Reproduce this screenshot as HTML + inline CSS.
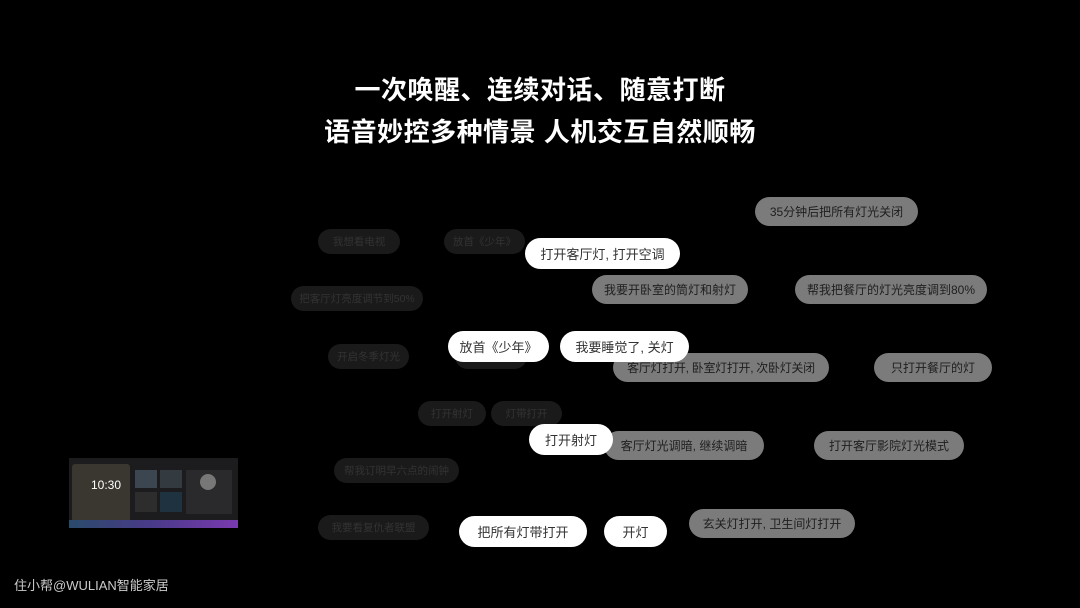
<!DOCTYPE html>
<html><head><meta charset="utf-8"><style>
html,body{margin:0;padding:0;background:#000;}
body{width:1080px;height:608px;position:relative;overflow:hidden;font-family:"Liberation Sans","Noto Sans CJK SC",sans-serif;}
.t{position:absolute;left:0;width:1080px;text-align:center;color:#fff;font-size:26px;font-weight:bold;letter-spacing:0.5px;line-height:34px;}
.p{position:absolute;border-radius:16px;display:flex;align-items:center;justify-content:center;white-space:nowrap;font-size:13px;}
.d{background:#1a1a1a;color:#333;font-size:10.5px;}
.w{background:#fff;color:#333;}
.g{background:#7b7b7b;color:#1e1e1e;font-size:12px;}
</style></head><body>
<div class="t" style="top:73px">一次唤醒、连续对话、随意打断</div>
<div class="t" style="top:115px">语音妙控多种情景 人机交互自然顺畅</div>

<div class="p d" style="left:318px;top:229px;width:82px;height:25px">我想看电视</div>
<div class="p d" style="left:444px;top:229px;width:81px;height:25px">放首《少年》</div>
<div class="p d" style="left:291px;top:286px;width:132px;height:25px">把客厅灯亮度调节到50%</div>
<div class="p d" style="left:328px;top:344px;width:81px;height:25px">开启冬季灯光</div>
<div class="p d" style="left:455px;top:344px;width:72px;height:25px"></div>
<div class="p d" style="left:418px;top:401px;width:68px;height:25px">打开射灯</div>
<div class="p d" style="left:491px;top:401px;width:71px;height:25px">灯带打开</div>
<div class="p d" style="left:334px;top:458px;width:125px;height:25px">帮我订明早六点的闹钟</div>
<div class="p d" style="left:318px;top:515px;width:111px;height:25px">我要看复仇者联盟</div>

<div class="p g" style="left:755px;top:197px;width:163px;height:29px">35分钟后把所有灯光关闭</div>
<div class="p g" style="left:592px;top:275px;width:156px;height:29px">我要开卧室的筒灯和射灯</div>
<div class="p g" style="left:795px;top:275px;width:192px;height:29px">帮我把餐厅的灯光亮度调到80%</div>
<div class="p g" style="left:613px;top:353px;width:216px;height:29px;letter-spacing:-0.3px">客厅灯打开, 卧室灯打开, 次卧灯关闭</div>
<div class="p g" style="left:874px;top:353px;width:118px;height:29px">只打开餐厅的灯</div>
<div class="p g" style="left:604px;top:431px;width:160px;height:29px">客厅灯光调暗, 继续调暗</div>
<div class="p g" style="left:814px;top:431px;width:150px;height:29px">打开客厅影院灯光模式</div>
<div class="p g" style="left:689px;top:509px;width:166px;height:29px">玄关灯打开, 卫生间灯打开</div>

<div class="p w" style="left:525px;top:238px;width:155px;height:31px">打开客厅灯, 打开空调</div>
<div class="p w" style="left:448px;top:331px;width:101px;height:31px">放首《少年》</div>
<div class="p w" style="left:560px;top:331px;width:129px;height:31px">我要睡觉了, 关灯</div>
<div class="p w" style="left:529px;top:424px;width:84px;height:31px">打开射灯</div>
<div class="p w" style="left:459px;top:516px;width:128px;height:31px">把所有灯带打开</div>
<div class="p w" style="left:604px;top:516px;width:63px;height:31px">开灯</div>

<div style="position:absolute;left:69px;top:458px;width:169px;height:70px;background:#1c1c1e;">
 <div style="position:absolute;left:3px;top:6px;width:58px;height:58px;background:#3a3630;border-radius:3px"></div>
 <div style="position:absolute;left:22px;top:20px;color:#fff;font-size:12px">10:30</div>
 <div style="position:absolute;left:66px;top:12px;width:22px;height:18px;background:#3b4650"></div>
 <div style="position:absolute;left:91px;top:12px;width:22px;height:18px;background:#333a40"></div>
 <div style="position:absolute;left:66px;top:34px;width:22px;height:20px;background:#2d2d2d"></div>
 <div style="position:absolute;left:91px;top:34px;width:22px;height:20px;background:#1f3240"></div>
 <div style="position:absolute;left:117px;top:12px;width:46px;height:44px;background:#2a2a2c"></div>
 <div style="position:absolute;left:131px;top:16px;width:16px;height:16px;border-radius:50%;background:#777"></div>
 <div style="position:absolute;left:0;top:62px;width:169px;height:8px;background:linear-gradient(90deg,#2a4a6a,#4a3a8a,#7a3ab0)"></div>
</div>

<div style="position:absolute;left:14px;top:575px;color:#ccc;font-size:13px">住小帮@WULIAN智能家居</div>
</body></html>
